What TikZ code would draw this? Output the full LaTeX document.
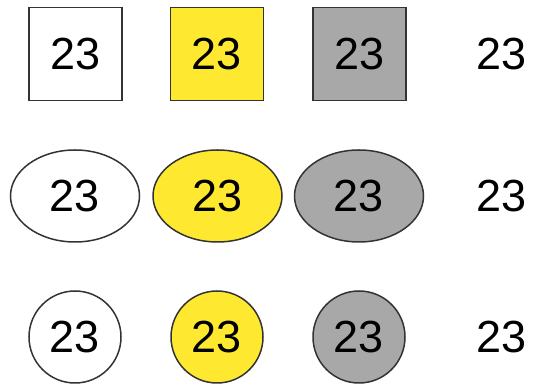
\documentclass[tikz,border=0pt]{standalone}
\usepackage{fontspec}
\setmainfont{Liberation Sans}
\usetikzlibrary{shapes.geometric}
\definecolor{fillyellow}{HTML}{FFE930}
\definecolor{fillgray}{HTML}{A8A8A8}
\definecolor{edgecol}{HTML}{333333}
\tikzset{
  num/.style={font=\fontsize{45}{54}\selectfont, inner sep=0pt, text=black},
  sq/.style={num, rectangle, draw=edgecol, line width=1.8pt, minimum width=93pt, minimum height=93pt},
  ell/.style={num, ellipse, draw=edgecol, line width=1.5pt, minimum width=129pt, minimum height=92pt},
  circ/.style={num, circle, draw=edgecol, line width=1.5pt, minimum size=92pt},
}
\begin{document}
\begin{tikzpicture}[x=1pt,y=1pt]
\useasboundingbox (0,0) rectangle (538,385);
% row 1: squares
\node[sq, fill=white] (s1) at (75.5,331) {23};
\node[sq, fill=fillyellow] (s2) at (217,331) {23};
\node[sq, fill=fillgray] (s3) at (359.5,331) {23};
\node[num] (t1) at (502,331) {23};
% row 2: ellipses
\node[ell, fill=white] (e1) at (75,189) {23};
\node[ell, fill=fillyellow] (e2) at (217.5,189) {23};
\node[ell, fill=fillgray] (e3) at (359,189) {23};
\node[num] (t2) at (502,189) {23};
% row 3: circles
\node[circ, fill=white] (c1) at (75,48) {23};
\node[circ, fill=fillyellow] (c2) at (217,48) {23};
\node[circ, fill=fillgray] (c3) at (359,48) {23};
\node[num] (t3) at (502,48) {23};
\end{tikzpicture}
\end{document}
